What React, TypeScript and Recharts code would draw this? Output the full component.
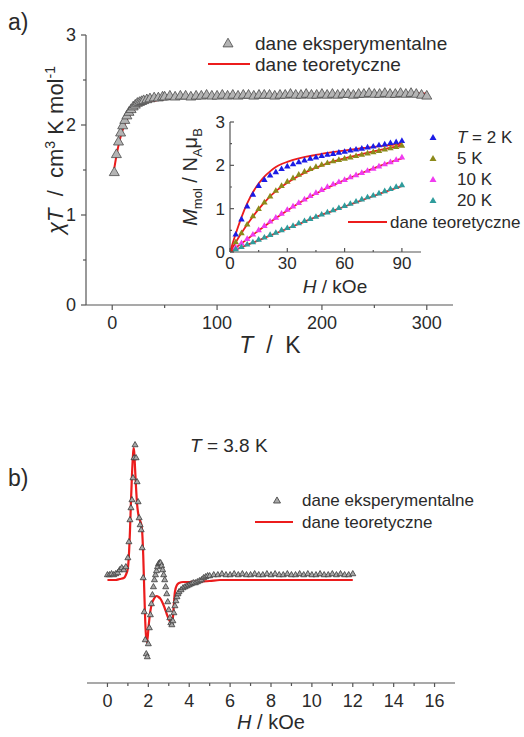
import React from "react";
import { ComposedChart, Line, Scatter, XAxis, YAxis } from "recharts";

const FONT = "'Liberation Sans', Arial, Helvetica, sans-serif";
const INK = "#2a2a2a";
const AXIS = "#555555";
const RED = "#ec1c1c";

// a) chiT vs T
const chiTemp = [2, 4, 6, 8, 10, 12, 14, 16, 18, 20, 22, 24, 26, 28, 30, 33, 36, 40, 44, 48,
  50, 55, 60, 65, 70, 75, 80, 85, 90, 95, 100, 105, 110, 115, 120, 125, 130, 135, 140, 145,
  150, 155, 160, 165, 170, 175, 180, 185, 190, 195, 200, 205, 210, 215, 220, 225, 230, 235, 240, 245,
  250, 255, 260, 265, 270, 275, 280, 285, 290, 295, 300];
const chiExp = [1.47, 1.67, 1.81, 1.91, 1.99, 2.05, 2.10, 2.14, 2.17, 2.20, 2.22, 2.24, 2.25, 2.26, 2.27, 2.28, 2.29, 2.30, 2.30, 2.31,
  2.31, 2.32, 2.31, 2.32, 2.32, 2.31, 2.32, 2.32, 2.33, 2.32, 2.32, 2.33, 2.32, 2.33, 2.32, 2.33, 2.33, 2.32, 2.33, 2.33,
  2.33, 2.32, 2.33, 2.33, 2.34, 2.33, 2.33, 2.34, 2.33, 2.33, 2.34, 2.33, 2.34, 2.33, 2.34, 2.34, 2.33, 2.34, 2.34, 2.35,
  2.34, 2.34, 2.35, 2.34, 2.34, 2.35, 2.34, 2.35, 2.34, 2.33, 2.32];
const chiFitTemp = [2, 5, 8, 11, 14, 17, 20, 25, 30, 35, 40, 50, 60, 80, 100, 150, 200, 250, 300];
const chiFit = [1.52, 1.72, 1.87, 1.98, 2.06, 2.12, 2.16, 2.21, 2.24, 2.26, 2.27, 2.29, 2.30, 2.31, 2.32, 2.33, 2.34, 2.345, 2.35];
const chiXTicks = [0, 50, 100, 150, 200, 250, 300];
const chiXMajor = [0, 100, 200, 300];
const chiYTicks = [0, 0.5, 1, 1.5, 2, 2.5, 3];
const chiYMajor = [0, 1, 2, 3];

// inset: M vs H
const magH = [3, 6, 9, 12, 15, 18, 21, 24, 27, 30, 33, 36, 39, 42, 45, 48, 51, 54, 57, 60, 63, 66, 69, 72, 75, 78, 81, 84, 87, 90];
const mag2K = [0.40, 0.75, 1.05, 1.32, 1.52, 1.66, 1.76, 1.84, 1.91, 1.97, 2.02, 2.07, 2.11, 2.15, 2.18, 2.21, 2.24, 2.26, 2.29, 2.31, 2.34, 2.36, 2.38, 2.41, 2.43, 2.46, 2.48, 2.51, 2.53, 2.56];
const mag5K = [0.22, 0.43, 0.63, 0.82, 0.99, 1.14, 1.28, 1.41, 1.52, 1.62, 1.70, 1.78, 1.85, 1.91, 1.96, 2.01, 2.05, 2.09, 2.12, 2.15, 2.18, 2.21, 2.24, 2.27, 2.30, 2.33, 2.36, 2.39, 2.42, 2.45];
const mag10K = [0.10, 0.20, 0.30, 0.40, 0.50, 0.60, 0.70, 0.79, 0.88, 0.97, 1.05, 1.13, 1.21, 1.29, 1.36, 1.43, 1.50, 1.56, 1.61, 1.66, 1.72, 1.77, 1.82, 1.87, 1.92, 1.97, 2.02, 2.07, 2.12, 2.18];
const mag20K = [0.06, 0.11, 0.17, 0.22, 0.28, 0.33, 0.39, 0.44, 0.50, 0.55, 0.60, 0.66, 0.71, 0.76, 0.81, 0.86, 0.91, 0.96, 1.01, 1.06, 1.11, 1.16, 1.21, 1.26, 1.30, 1.35, 1.40, 1.45, 1.50, 1.54];
const fit2KH = [0, 3, 6, 9, 12, 15, 18, 21, 24, 27, 30, 35, 40, 45, 50, 60, 70, 80, 90];
const fit2K = [0, 0.42, 0.80, 1.12, 1.38, 1.58, 1.74, 1.86, 1.96, 2.03, 2.08, 2.15, 2.20, 2.24, 2.28, 2.34, 2.40, 2.45, 2.50];
const fit5KH = [0, 5, 10, 15, 20, 25, 30, 40, 50, 60, 70, 80, 90];
const fit5K = [0, 0.37, 0.70, 0.99, 1.24, 1.44, 1.60, 1.85, 2.03, 2.16, 2.27, 2.37, 2.46];
const fitH = [0, 10, 20, 30, 40, 50, 60, 70, 80, 90];
const fit10K = [0, 0.33, 0.66, 0.96, 1.23, 1.46, 1.66, 1.84, 2.01, 2.16];
const fit20K = [0, 0.18, 0.36, 0.54, 0.72, 0.89, 1.05, 1.21, 1.37, 1.52];
const magXTicks = [0, 15, 30, 45, 60, 75, 90];
const magXMajor = [0, 30, 60, 90];
const magYTicks = [0, 0.5, 1, 1.5, 2, 2.5, 3];
const magYMajor = [0, 1, 2, 3];
const magSeries = [
  { label: "2 K", color: "#1c1ce6", exp: mag2K, fitH: fit2KH, fit: fit2K },
  { label: "5 K", color: "#8c8a1a", exp: mag5K, fitH: fit5KH, fit: fit5K },
  { label: "10 K", color: "#f03cf0", exp: mag10K, fitH: fitH, fit: fit10K },
  { label: "20 K", color: "#2f9c9c", exp: mag20K, fitH: fitH, fit: fit20K },
];

// b) EPR spectrum at 3.8 K
const eprH = [0, 0.1, 0.2, 0.3, 0.4, 0.5, 0.6, 0.7, 0.8, 0.9,
  1.0, 1.05, 1.1, 1.15, 1.2, 1.25, 1.3, 1.35, 1.4, 1.45, 1.5, 1.55, 1.6, 1.65, 1.7, 1.75, 1.8, 1.85, 1.9, 1.95,
  2.0, 2.05, 2.1, 2.15, 2.2, 2.25, 2.3, 2.35, 2.4, 2.45, 2.5, 2.55, 2.6, 2.65, 2.7, 2.75, 2.8, 2.85, 2.9, 2.95,
  3.0, 3.05, 3.1, 3.15, 3.2, 3.25, 3.3, 3.35, 3.4, 3.45, 3.5,
  3.6, 3.7, 3.8, 3.9, 4.0, 4.1, 4.2, 4.3, 4.4, 4.5, 4.6, 4.7, 4.8, 4.9, 5.0,
  5.2, 5.4, 5.6, 5.8, 6.0, 6.2, 6.4, 6.6, 6.8, 7.0, 7.2, 7.4, 7.6, 7.8, 8.0, 8.2, 8.4, 8.6, 8.8, 9.0,
  9.2, 9.4, 9.6, 9.8, 10.0, 10.2, 10.4, 10.6, 10.8, 11.0, 11.2, 11.4, 11.6, 11.8, 12.0];
const eprExp = [0.05, 0.05, 0.06, 0.05, 0.06, 0.07, 0.10, 0.12, 0.10, 0.13,
  0.22, 0.38, 0.60, 0.72, 0.80, 1.02, 1.22, 1.35, 1.22, 0.98, 0.78, 0.62, 0.55, 0.50, 0.32, 0.02, -0.32, -0.60, -0.74, -0.77,
  -0.64, -0.48, -0.35, -0.24, -0.15, -0.07, 0.0, 0.05, 0.09, 0.13, 0.16, 0.17, 0.17, 0.14, 0.10, 0.05, 0.0, -0.07, -0.14, -0.22,
  -0.30, -0.38, -0.43, -0.45, -0.41, -0.33, -0.26, -0.21, -0.17, -0.14, -0.12,
  -0.10, -0.08, -0.07, -0.06, -0.05, -0.04, -0.03, -0.03, -0.02, -0.01, 0.0, 0.02, 0.03, 0.04, 0.04,
  0.05, 0.05, 0.06, 0.05, 0.05, 0.06, 0.05, 0.06, 0.05, 0.05, 0.06, 0.05, 0.05, 0.06, 0.05, 0.06, 0.05, 0.05, 0.06, 0.05,
  0.05, 0.06, 0.05, 0.06, 0.05, 0.05, 0.06, 0.05, 0.05, 0.06, 0.05, 0.06, 0.05, 0.05, 0.06];
const eprFitH = [0, 0.2, 0.4, 0.6, 0.8, 0.9, 1.0, 1.05, 1.1, 1.15, 1.2, 1.25, 1.28, 1.31, 1.35, 1.4, 1.45, 1.5, 1.55, 1.6, 1.65,
  1.7, 1.75, 1.8, 1.85, 1.9, 1.93, 1.97, 2.02, 2.1, 2.2, 2.3, 2.4, 2.5, 2.6, 2.7, 2.8, 2.9, 3.0, 3.08, 3.15, 3.2, 3.25, 3.3,
  3.4, 3.5, 3.7, 4.0, 4.5, 5.0, 5.5, 6.0, 12.0];
const eprFit = [0, 0, 0, 0.01, 0.02, 0.05, 0.12, 0.25, 0.48, 0.78, 1.05, 1.25, 1.32, 1.28, 1.12, 0.92, 0.76, 0.67, 0.62, 0.59, 0.56,
  0.48, 0.25, -0.10, -0.42, -0.59, -0.62, -0.57, -0.45, -0.31, -0.22, -0.18, -0.16, -0.17, -0.19, -0.23, -0.28, -0.34, -0.39, -0.42, -0.43, -0.38, -0.24, -0.12,
  -0.05, -0.03, -0.02, -0.02, -0.015, -0.01, 0, 0, 0];
const eprXTicks = [0, 1, 2, 3, 4, 5, 6, 7, 8, 9, 10, 11, 12, 13, 14, 15, 16];
const eprXMajor = [0, 2, 4, 6, 8, 10, 12, 14, 16];

const pts = (xs: number[], ys: number[]) => xs.map((x, i) => ({ x, y: ys[i] }));

function tri(cx: number, cy: number, w: number) {
  const h = w * 0.87;
  return `${cx},${cy - (2 * h) / 3} ${cx - w / 2},${cy + h / 3} ${cx + w / 2},${cy + h / 3}`;
}

function Triangle(props: any) {
  const { cx, cy, w, fill, stroke } = props;
  if (cx == null || cy == null) return null;
  return <polygon points={tri(cx, cy, w)} fill={fill} stroke={stroke || "none"} strokeWidth={0.8} />;
}

function AxisTick(props: any) {
  const { x, y, payload, cfg } = props;
  const v = payload.value;
  const major = cfg.major.includes(v);
  const len = major ? cfg.len : cfg.minorLen;
  const d = cfg.inward ? -1 : 1;
  const textProps = { fontSize: cfg.fontSize, fontFamily: FONT, fill: INK };
  if (cfg.side === "x") {
    return (
      <g>
        <line x1={x} y1={y} x2={x} y2={y + d * len} stroke={AXIS} strokeWidth={1.2} />
        {major && (
          <text x={x} y={y + cfg.gap} dy="0.71em" textAnchor="middle" {...textProps}>
            {v}
          </text>
        )}
      </g>
    );
  }
  return (
    <g>
      <line x1={x} y1={y} x2={x - d * len} y2={y} stroke={AXIS} strokeWidth={1.2} />
      {major && (
        <text x={x - cfg.gap} y={y} dy="0.35em" textAnchor="end" {...textProps}>
          {v}
        </text>
      )}
    </g>
  );
}

const axisCommon = {
  type: "number" as const,
  allowDataOverflow: true,
  interval: 0 as const,
  tickLine: false,
  tickSize: 0,
  tickMargin: 0,
  axisLine: { stroke: AXIS, strokeWidth: 1.2 },
};

function ChiTChart() {
  const xCfg = { side: "x", major: chiXMajor, fontSize: 18, gap: 11, len: 5, minorLen: 3 };
  const yCfg = { side: "y", major: chiYMajor, fontSize: 18, gap: 10, len: 5, minorLen: 3 };
  return (
    <ComposedChart width={524} height={360} margin={{ top: 35, right: 71, bottom: 0, left: 0 }}>
      <XAxis {...axisCommon} dataKey="x" domain={[-25, 325]} ticks={chiXTicks} height={55}
        tick={(p: any) => <AxisTick {...p} cfg={xCfg} />} />
      <YAxis {...axisCommon} dataKey="y" domain={[0, 3]} ticks={chiYTicks} width={86}
        tick={(p: any) => <AxisTick {...p} cfg={yCfg} />} />
      <Scatter data={pts(chiTemp, chiExp)} dataKey="y" isAnimationActive={false}
        shape={(p: any) => <Triangle {...p} w={10} fill="#b4b4b4" stroke="#4a4a4a" />} />
      <Line data={pts(chiFitTemp, chiFit)} dataKey="y" type="monotone" stroke={RED} strokeWidth={2}
        dot={false} isAnimationActive={false} />
    </ComposedChart>
  );
}

function MagChart() {
  const xCfg = { side: "x", major: magXMajor, fontSize: 17, gap: 5, len: 4, minorLen: 2, inward: true };
  const yCfg = { side: "y", major: magYMajor, fontSize: 17, gap: 5, len: 4, minorLen: 2, inward: true };
  return (
    <ComposedChart width={384} height={200} margin={{ top: 22, right: 103, bottom: 0, left: 0 }}>
      <XAxis {...axisCommon} dataKey="x" domain={[0, 100]} ticks={magXTicks} height={48}
        tick={(p: any) => <AxisTick {...p} cfg={xCfg} />} />
      <YAxis {...axisCommon} dataKey="y" domain={[0, 3]} ticks={magYTicks} width={90}
        tick={(p: any) => <AxisTick {...p} cfg={yCfg} />} />
      {magSeries.map((s) => (
        <Scatter key={"e" + s.label} data={pts(magH, s.exp)} dataKey="y" isAnimationActive={false}
          shape={(p: any) => <Triangle {...p} w={6.5} fill={s.color} />} />
      ))}
      {magSeries.map((s) => (
        <Line key={"f" + s.label} data={pts(s.fitH, s.fit)} dataKey="y" type="monotone" stroke={RED}
          strokeWidth={1.8} dot={false} isAnimationActive={false} />
      ))}
    </ComposedChart>
  );
}

function EprChart() {
  const xCfg = { side: "x", major: eprXMajor, fontSize: 18, gap: 11, len: 4, minorLen: 3 };
  return (
    <ComposedChart width={524} height={337} margin={{ top: 20, right: 69, bottom: 0, left: 87 }}>
      <XAxis {...axisCommon} dataKey="x" domain={[-1, 17]} ticks={eprXTicks} height={54}
        tick={(p: any) => <AxisTick {...p} cfg={xCfg} />} />
      <YAxis type="number" dataKey="y" domain={[-1.03, 1.6]} allowDataOverflow hide width={0} />
      <Scatter data={pts(eprH, eprExp)} dataKey="y" isAnimationActive={false}
        shape={(p: any) => <Triangle {...p} w={6} fill="#a8a8a8" stroke="#3a3a3a" />} />
      <Line data={pts(eprFitH, eprFit)} dataKey="y" type="monotone" stroke={RED} strokeWidth={2.2}
        dot={false} isAnimationActive={false} />
    </ComposedChart>
  );
}

function Overlay() {
  const t = { fontFamily: FONT, fill: INK };
  return (
    <svg width={524} height={737} style={{ position: "absolute", left: 0, top: 0, pointerEvents: "none" }}>
      <text x={8} y={30} fontSize={23} {...t}>a)</text>
      <text x={8} y={486} fontSize={23} {...t}>b)</text>

      {/* a) axis titles */}
      <text transform="translate(63,150) rotate(-90)" textAnchor="middle" fontSize={22} {...t}>
        <tspan fontStyle="italic">χT</tspan>
        <tspan>{"\u00a0\u00a0/\u00a0\u00a0cm"}</tspan>
        <tspan dy={-8} fontSize={14}>3</tspan>
        <tspan dy={8}>{"\u00a0K mol"}</tspan>
        <tspan dy={-8} fontSize={14}>-1</tspan>
      </text>
      <text x={270} y={353} textAnchor="middle" fontSize={23} {...t}>
        <tspan fontStyle="italic">T</tspan>
        <tspan>{"\u00a0\u00a0/\u00a0\u00a0K"}</tspan>
      </text>

      {/* a) legend */}
      <polygon points={tri(228, 44, 10)} fill="#b4b4b4" stroke="#4a4a4a" strokeWidth={0.8} />
      <text x={255} y={50} fontSize={19} {...t}>dane eksperymentalne</text>
      <line x1={208} y1={64} x2={250} y2={64} stroke={RED} strokeWidth={2.2} />
      <text x={255} y={71} fontSize={19} {...t}>dane teoretyczne</text>

      {/* inset titles */}
      <text transform="translate(197,177) rotate(-90)" textAnchor="middle" fontSize={20} {...t}>
        <tspan fontStyle="italic">M</tspan>
        <tspan dy={5} fontSize={13}>mol</tspan>
        <tspan dy={-5}>{"\u00a0/\u00a0N"}</tspan>
        <tspan dy={5} fontSize={13}>A</tspan>
        <tspan dy={-5}>μ</tspan>
        <tspan dy={5} fontSize={13}>B</tspan>
      </text>
      <text x={335} y={293} textAnchor="middle" fontSize={19} {...t}>
        <tspan fontStyle="italic">H</tspan>
        <tspan>{"\u00a0/\u00a0kOe"}</tspan>
      </text>

      {/* inset legend */}
      {magSeries.map((s, i) => (
        <g key={s.label}>
          <polygon points={tri(433, 138 + i * 21, 7)} fill={s.color} />
          <text x={457} y={143 + i * 21} fontSize={17} {...t}>
            {i === 0 ? (
              <>
                <tspan fontStyle="italic">T</tspan>
                <tspan>{" = " + s.label}</tspan>
              </>
            ) : (
              s.label
            )}
          </text>
        </g>
      ))}
      <line x1={348} y1={222} x2={387} y2={222} stroke={RED} strokeWidth={2} />
      <text x={390} y={228} fontSize={17} {...t}>dane teoretyczne</text>

      {/* b) annotations */}
      <text x={190} y={452} fontSize={19} {...t}>
        <tspan fontStyle="italic">T</tspan>
        <tspan>{" = 3.8 K"}</tspan>
      </text>
      <polygon points={tri(277, 501, 7)} fill="#a8a8a8" stroke="#3a3a3a" strokeWidth={0.8} />
      <text x={302} y={506} fontSize={17} {...t}>dane eksperymentalne</text>
      <line x1={255} y1={522} x2={293} y2={522} stroke={RED} strokeWidth={2.2} />
      <text x={302} y={528} fontSize={17} {...t}>dane teoretyczne</text>
      <text x={271} y={729} textAnchor="middle" fontSize={20} {...t}>
        <tspan fontStyle="italic">H</tspan>
        <tspan>{"\u00a0/\u00a0kOe"}</tspan>
      </text>
    </svg>
  );
}

export default function App() {
  return (
    <div style={{ position: "absolute", left: 0, top: 0, width: 524, height: 737, background: "#fff", fontFamily: FONT }}>
      <div style={{ position: "absolute", left: 0, top: 0 }}>
        <ChiTChart />
      </div>
      <div style={{ position: "absolute", left: 140, top: 100 }}>
        <MagChart />
      </div>
      <div style={{ position: "absolute", left: 0, top: 400 }}>
        <EprChart />
      </div>
      <Overlay />
    </div>
  );
}
